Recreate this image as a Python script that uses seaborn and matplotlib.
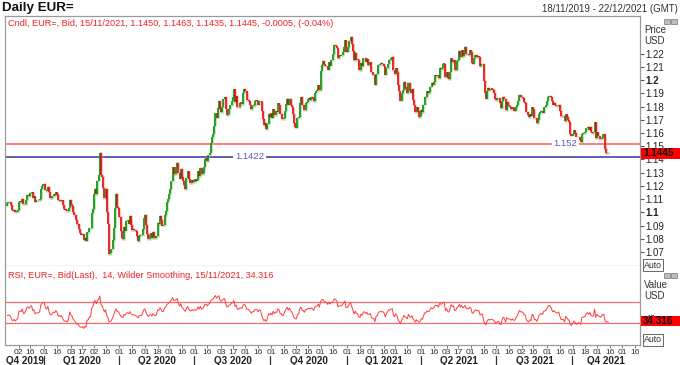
import numpy as np
import pandas as pd
import matplotlib
matplotlib.use("Agg")
import matplotlib.pyplot as plt
import seaborn as sns
from matplotlib.transforms import blended_transform_factory
from matplotlib.patches import Rectangle
from matplotlib.lines import Line2D

sns.set_style("white")
plt.rcParams["font.family"] = ["Liberation Sans", "DejaVu Sans"]

# ---------------- data (daily closes, EUR= bid) ----------------
pre_closes = [1.1150, 1.1125, 1.1130, 1.1105, 1.1080, 1.1100, 1.1110, 1.1150, 1.1150, 1.1165,
              1.1130, 1.1075, 1.1065, 1.1050, 1.1020, 1.1030, 1.1010, 1.1005, 1.1020, 1.1050]

q4_2019 = [1.1072, 1.1077, 1.1075, 1.1055, 1.1020, 1.1012, 1.1020, 1.1000, 1.1010, 1.1017,
           1.1078, 1.1082, 1.1077, 1.1103, 1.1060, 1.1064, 1.1090, 1.1130, 1.1130, 1.1120,
           1.1145, 1.1150, 1.1110, 1.1120, 1.1080, 1.1090, 1.1090, 1.1090, 1.1100, 1.1177,
           1.1200, 1.1213]
q1_2020 = [1.1215, 1.1172, 1.1160,
           1.1195, 1.1152, 1.1105, 1.1105, 1.1120, 1.1135, 1.1128, 1.1150, 1.1135, 1.1090,
           1.1095, 1.1083, 1.1092, 1.1055, 1.1025, 1.1020, 1.1020, 1.1008, 1.1030, 1.1093,
           1.1060, 1.1045, 1.1000, 1.0980, 1.0945, 1.0912, 1.0915, 1.0872, 1.0840, 1.0830,
           1.0835, 1.0790, 1.0805, 1.0785, 1.0848, 1.0850, 1.0880, 1.0880, 1.0995, 1.1026,
           1.1136, 1.1176, 1.1135, 1.1240, 1.1285, 1.1450, 1.1285, 1.1270, 1.1185, 1.1105,
           1.1180, 1.1000, 1.0915, 1.0685, 1.0695, 1.0720, 1.0790, 1.0885, 1.1030, 1.1140,
           1.1040, 1.1030]
q2_2020 = [1.0965, 1.0855, 1.0805,
           1.0795, 1.0890, 1.0860, 1.0935, 1.0940, 1.0915, 1.0975, 1.0905, 1.0865, 1.0875,
           1.0865, 1.0855, 1.0822, 1.0780, 1.0820, 1.0830, 1.0825, 1.0875, 1.0955, 1.0980,
           1.0905, 1.0835, 1.0795, 1.0830, 1.0840, 1.0805, 1.0850, 1.0815, 1.0805, 1.0820,
           1.0920, 1.0910, 1.0975, 1.0945, 1.0900, 1.0905, 1.0980, 1.1010, 1.1075, 1.1100,
           1.1135, 1.1175, 1.1235, 1.1340, 1.1290, 1.1290, 1.1340, 1.1375, 1.1300, 1.1255,
           1.1330, 1.1265, 1.1240, 1.1205, 1.1175, 1.1260, 1.1310, 1.1250, 1.1220, 1.1220,
           1.1245, 1.1230]
q3_2020 = [1.1250, 1.1240, 1.1245,
           1.1310, 1.1275, 1.1335, 1.1290, 1.1300, 1.1345, 1.1405, 1.1410, 1.1385, 1.1430,
           1.1450, 1.1525, 1.1570, 1.1595, 1.1655, 1.1750, 1.1715, 1.1790, 1.1845, 1.1780,
           1.1760, 1.1800, 1.1860, 1.1875, 1.1785, 1.1735, 1.1740, 1.1785, 1.1810, 1.1840,
           1.1870, 1.1930, 1.1835, 1.1880, 1.1795, 1.1795, 1.1830, 1.1830, 1.1820, 1.1905,
           1.1935, 1.1915, 1.1850, 1.1850, 1.1840, 1.1815, 1.1780, 1.1805, 1.1812, 1.1845,
           1.1845, 1.1845, 1.1815, 1.1845, 1.1840, 1.1770, 1.1705, 1.1660, 1.1675, 1.1630,
           1.1670, 1.1745, 1.1720]
q4_2020 = [1.1750, 1.1715,
           1.1780, 1.1735, 1.1765, 1.1760, 1.1825, 1.1815, 1.1745, 1.1745, 1.1705, 1.1715,
           1.1770, 1.1820, 1.1860, 1.1815, 1.1860, 1.1815, 1.1795, 1.1745, 1.1675, 1.1645,
           1.1640, 1.1715, 1.1720, 1.1830, 1.1875, 1.1815, 1.1810, 1.1775, 1.1830, 1.1835,
           1.1855, 1.1865, 1.1850, 1.1875, 1.1860, 1.1840, 1.1900, 1.1915, 1.1925, 1.1960,
           1.1925, 1.2070, 1.2115, 1.2145, 1.2120, 1.2110, 1.2105, 1.2080, 1.2135, 1.2110,
           1.2150, 1.2155, 1.2195, 1.2265, 1.2255, 1.2240, 1.2165, 1.2185, 1.2185, 1.2190,
           1.2215, 1.2250, 1.2300, 1.2215]
q1_2021 = [1.2215,
           1.2250, 1.2295, 1.2325, 1.2270, 1.2220, 1.2150, 1.2205, 1.2155, 1.2155, 1.2080,
           1.2075, 1.2130, 1.2105, 1.2165, 1.2170, 1.2140, 1.2160, 1.2115, 1.2125, 1.2135,
           1.2060, 1.2040, 1.2040, 1.1965, 1.2045, 1.2050, 1.2115, 1.2120, 1.2130, 1.2120,
           1.2125, 1.2105, 1.2040, 1.2090, 1.2120, 1.2155, 1.2150, 1.2165, 1.2175, 1.2075,
           1.2045, 1.2090, 1.2065, 1.1965, 1.1915, 1.1845, 1.1900, 1.1925, 1.1985, 1.1950,
           1.1930, 1.1900, 1.1980, 1.1915, 1.1905, 1.1935, 1.1850, 1.1815, 1.1760, 1.1795,
           1.1765, 1.1720, 1.1730]
q2_2021 = [1.1775, 1.1760,
           1.1815, 1.1875, 1.1870, 1.1915, 1.1900, 1.1910, 1.1950, 1.1980, 1.1965, 1.1985,
           1.2035, 1.2030, 1.2035, 1.2015, 1.2095, 1.2085, 1.2090, 1.2125, 1.2125, 1.2020,
           1.2060, 1.2015, 1.2005, 1.2065, 1.2165, 1.2135, 1.2150, 1.2075, 1.2080, 1.2145,
           1.2155, 1.2220, 1.2175, 1.2225, 1.2180, 1.2210, 1.2250, 1.2195, 1.2195, 1.2190,
           1.2225, 1.2215, 1.2130, 1.2125, 1.2165, 1.2190, 1.2175, 1.2180, 1.2175, 1.2105,
           1.2120, 1.2125, 1.1995, 1.1905, 1.1860, 1.1915, 1.1940, 1.1925, 1.1935, 1.1935,
           1.1925, 1.1905, 1.1860]
q3_2021 = [1.1850, 1.1865,
           1.1865, 1.1825, 1.1790, 1.1845, 1.1875, 1.1860, 1.1775, 1.1835, 1.1810, 1.1805,
           1.1800, 1.1780, 1.1795, 1.1770, 1.1770, 1.1800, 1.1815, 1.1845, 1.1890, 1.1870,
           1.1870, 1.1865, 1.1835, 1.1830, 1.1760, 1.1735, 1.1720, 1.1740, 1.1730, 1.1795,
           1.1780, 1.1710, 1.1710, 1.1675, 1.1700, 1.1745, 1.1760, 1.1770, 1.1755, 1.1795,
           1.1800, 1.1810, 1.1840, 1.1875, 1.1880, 1.1870, 1.1840, 1.1815, 1.1830, 1.1815,
           1.1805, 1.1805, 1.1815, 1.1770, 1.1725, 1.1725, 1.1725, 1.1690, 1.1740, 1.1720,
           1.1695, 1.1680, 1.1595, 1.1580]
q4_2021 = [1.1595,
           1.1620, 1.1600, 1.1555, 1.1555, 1.1570, 1.1550, 1.1530, 1.1595, 1.1600, 1.1600,
           1.1610, 1.1635, 1.1645, 1.1625, 1.1645, 1.1610, 1.1600, 1.1605, 1.1680, 1.1560,
           1.1605, 1.1580, 1.1575, 1.1555, 1.1565, 1.1590, 1.1590, 1.1480, 1.1445, 1.1450,
           1.1445]

support_level = 1.1422
resist_level = 1.152
last_price = 1.1445
last_rsi = 34.316
rsi_bands = [70, 30]

start_date = "2019-11-18"
end_date = "2021-12-22"
tick_dates = ["2019-12-02", "2019-12-16", "2020-01-01", "2020-01-16", "2020-02-03", "2020-02-17",
              "2020-03-02", "2020-03-16", "2020-04-01", "2020-04-16", "2020-05-01", "2020-05-18",
              "2020-06-01", "2020-06-16", "2020-07-01", "2020-07-16", "2020-08-03", "2020-08-17",
              "2020-09-01", "2020-09-16", "2020-10-01", "2020-10-16", "2020-11-02", "2020-11-16",
              "2020-12-01", "2020-12-16", "2021-01-01", "2021-01-18", "2021-02-01", "2021-02-16",
              "2021-03-01", "2021-03-16", "2021-04-01", "2021-04-16", "2021-05-03", "2021-05-17",
              "2021-06-01", "2021-06-16", "2021-07-01", "2021-07-16", "2021-08-02", "2021-08-16",
              "2021-09-01", "2021-09-16", "2021-10-01", "2021-10-18", "2021-11-01", "2021-11-16",
              "2021-12-01", "2021-12-16"]
quarter_starts = ["2020-01-01", "2020-04-01", "2020-07-01", "2020-10-01",
                  "2021-01-01", "2021-04-01", "2021-07-01", "2021-10-01"]
quarter_labels = ["Q4 2019", "Q1 2020", "Q2 2020", "Q3 2020", "Q4 2020",
                  "Q1 2021", "Q2 2021", "Q3 2021", "Q4 2021"]
price_ticks = [1.07, 1.08, 1.09, 1.10, 1.11, 1.12, 1.13, 1.14, 1.15, 1.16, 1.17, 1.18,
               1.19, 1.20, 1.21, 1.22]

# ---------------- derived ----------------
closes = np.array(q4_2019 + q1_2020 + q2_2020 + q3_2020 + q4_2020 +
                  q1_2021 + q2_2021 + q3_2021 + q4_2021)
n = len(closes)
opens = np.concatenate([[pre_closes[-1]], closes[:-1]])
idx = np.arange(n)

days = pd.bdate_range(start_date, end_date)
def day_index(d):
    return int(np.searchsorted(days.values, np.datetime64(pd.Timestamp(d))))

# Wilder RSI(14)
allc = np.array(pre_closes + list(closes))
delta = np.diff(allc)
gain = np.clip(delta, 0, None)
loss = np.clip(-delta, 0, None)
ag = gain[:14].mean()
al = loss[:14].mean()
rsi_all = np.full(len(allc), np.nan)
rsi_all[14] = 100 - 100 / (1 + ag / al)
for k in range(14, len(delta)):
    ag = (ag * 13 + gain[k]) / 14
    al = (al * 13 + loss[k]) / 14
    rsi_all[k + 1] = 100 - 100 / (1 + ag / al)
rsi = rsi_all[len(pre_closes):]
df = pd.DataFrame({"idx": idx, "rsi": rsi})

# ---------------- figure ----------------
W, H = 680, 365
fig = plt.figure(figsize=(W / 100, H / 100), dpi=100)
L, R = 5, 640
ax1 = fig.add_axes([L / W, 1 - 266 / H, (R - L) / W, 250 / H])
ax2 = fig.add_axes([L / W, 1 - 345 / H, (R - L) / W, 79 / H])

xmin, xmax = -2, 547.3
frame_c = "#9a9a9a"

# candles
up = closes > opens
body_c = np.where(up, "#008c00", "#e00000")
halo_c = np.where(up, "#7fcf7f", "#ff8a8a")
lo = np.minimum(opens, closes)
hi = np.maximum(np.maximum(opens, closes), lo + 0.00025)
ax1.vlines(idx, lo - 0.0005, hi + 0.0005, colors=halo_c, lw=2.0, alpha=0.55)
ax1.vlines(idx, lo, hi, colors=body_c, lw=1.1)

ax1.axhline(resist_level, color="#ff5a5a", lw=1.1, zorder=1)
ax1.axhline(support_level, color="#34349e", lw=1.1, zorder=1)
ax1.text(209.5, support_level, "1.1422", color="#5a5ab8", fontsize=6.8, ha="center",
         va="center", bbox=dict(fc="white", ec="none", pad=1.2), zorder=3)
ax1.text(482.5, resist_level, "1.152", color="#5a5ab8", fontsize=6.8, ha="center",
         va="center", bbox=dict(fc="white", ec="none", pad=1.2), zorder=3)

ax1.set_xlim(xmin, xmax)
ax1.set_ylim(1.0594, 1.2485)
ax1.set_xticks([])
ax1.yaxis.tick_right()
ax1.set_yticks(price_ticks)
ax1.set_yticklabels([("%.1f" % t) if abs(t * 10 - round(t * 10)) < 1e-6 else ("%.2f" % t)
                     for t in price_ticks])
for t, lab in zip(price_ticks, ax1.get_yticklabels()):
    if abs(t * 10 - round(t * 10)) < 1e-6:
        lab.set_fontweight("bold")
        lab.set_fontsize(7.8)
ax1.tick_params(axis="y", direction="out", length=3, width=0.8, labelsize=7, pad=1,
                color="#555555", labelcolor="#222222", right=True, left=False)
for s in ["top", "left", "right", "bottom"]:
    ax1.spines[s].set_visible(True)
    ax1.spines[s].set_color(frame_c)
    ax1.spines[s].set_linewidth(0.9)

# RSI panel
sns.lineplot(data=df, x="idx", y="rsi", ax=ax2, color="#ff3c3c", lw=0.7)
for b in rsi_bands:
    ax2.axhline(b, color="#ff6a6a", lw=0.9, zorder=1)
ax2.set_xlim(xmin, xmax)
ax2.set_ylim(-10, 136)
ax2.set_xlabel("")
ax2.set_ylabel("")
ax2.yaxis.tick_right()
ax2.set_yticks([40])
ax2.set_yticklabels(["40"])
ax2.tick_params(axis="y", direction="out", length=3, width=0.8, labelsize=6.5, pad=1,
                color="#555555", labelcolor="#222222", right=True, left=False)
tick_pos = [day_index(d) for d in tick_dates]
ax2.set_xticks(tick_pos)
ax2.set_xticklabels([d[-2:] for d in tick_dates])
ax2.tick_params(axis="x", direction="out", length=2.0, width=0.7, labelsize=6.1, pad=0.8,
                color="#777777", labelcolor="#333333", bottom=True)
ax2.spines["top"].set_visible(False)
for s in ["left", "right", "bottom"]:
    ax2.spines[s].set_visible(True)
    ax2.spines[s].set_color(frame_c)
    ax2.spines[s].set_linewidth(0.9)

# quarter labels and separators
qpos = [day_index(d) for d in quarter_starts]
bounds = [xmin] + qpos + [xmax]
tq = blended_transform_factory(ax2.transData, fig.transFigure)
for k, lab in enumerate(quarter_labels):
    c = (bounds[k] + bounds[k + 1]) / 2
    ax2.text(c, 1 - 361 / H, lab, transform=tq, ha="center", va="center",
             fontsize=7.1, fontweight="bold", color="#222222", clip_on=False)
for q in qpos:
    ax2.add_line(Line2D([q - 0.5, q - 0.5], [1 - 355.5 / H, 1 - 365 / H], transform=tq,
                        color="#333333", lw=0.9, clip_on=False))

# texts
fig.text(2 / W, 1 - 8.5 / H, "Daily EUR=", fontsize=9.6, fontweight="bold", va="center",
         color="#111111")
fig.text(678 / W, 1 - 9.5 / H, "18/11/2019 - 22/12/2021 (GMT)", fontsize=7, ha="right",
         va="center", color="#333333")
fig.text(8 / W, 1 - 23 / H,
         "Cndl, EUR=, Bid, 15/11/2021, 1.1450, 1.1463, 1.1435, 1.1445, -0.0005, (-0.04%)",
         fontsize=6.6, color="#ee2222", va="center")
fig.text(8 / W, 1 - 276 / H,
         "RSI, EUR=, Bid(Last),  14, Wilder Smoothing, 15/11/2021, 34.316",
         fontsize=6.6, color="#ee2222", va="center")
fig.text(644 / W, 1 - 30 / H, "Price", fontsize=7, color="#333333", va="center")
fig.text(644 / W, 1 - 41 / H, "USD", fontsize=7, color="#333333", va="center")
fig.text(644 / W, 1 - 285 / H, "Value", fontsize=7, color="#333333", va="center")
fig.text(644 / W, 1 - 296 / H, "USD", fontsize=7, color="#333333", va="center")
for yy in [265, 340]:
    fig.text(644 / W, 1 - yy / H, "Auto", fontsize=6.3, color="#333333", va="center",
             bbox=dict(fc="white", ec="#666666", lw=0.7, pad=0.8))
# small window icons
for yy in [21, 275]:
    for xx in [664, 671]:
        fig.patches.append(Rectangle((xx / W, 1 - (yy + 3) / H), 5.5 / W, 5.5 / H,
                                     transform=fig.transFigure, fc="#bdbdbd",
                                     ec="#777777", lw=0.5))

# last value boxes
tb1 = blended_transform_factory(fig.transFigure, ax1.transData)
hh = 5.2 / 1322
ax1.add_patch(Rectangle((641 / W, last_price - hh), 39 / W, 2 * hh, transform=tb1,
                        fc="#ff0000", ec="none", clip_on=False, zorder=5))
ax1.text(643 / W, last_price, "%.4f" % last_price, transform=tb1, fontsize=7.2,
         fontweight="bold", va="center", ha="left", color="#111111", clip_on=False, zorder=6)
tb2 = blended_transform_factory(fig.transFigure, ax2.transData)
hr = 5.2 / 0.54
ax2.add_patch(Rectangle((641 / W, last_rsi - hr), 39 / W, 2 * hr, transform=tb2,
                        fc="#ff0000", ec="none", clip_on=False, zorder=5))
ax2.text(643 / W, last_rsi, "%.3f" % last_rsi, transform=tb2, fontsize=7.2,
         fontweight="bold", va="center", ha="left", color="#111111", clip_on=False, zorder=6)

fig.savefig("out.png", dpi=100)
